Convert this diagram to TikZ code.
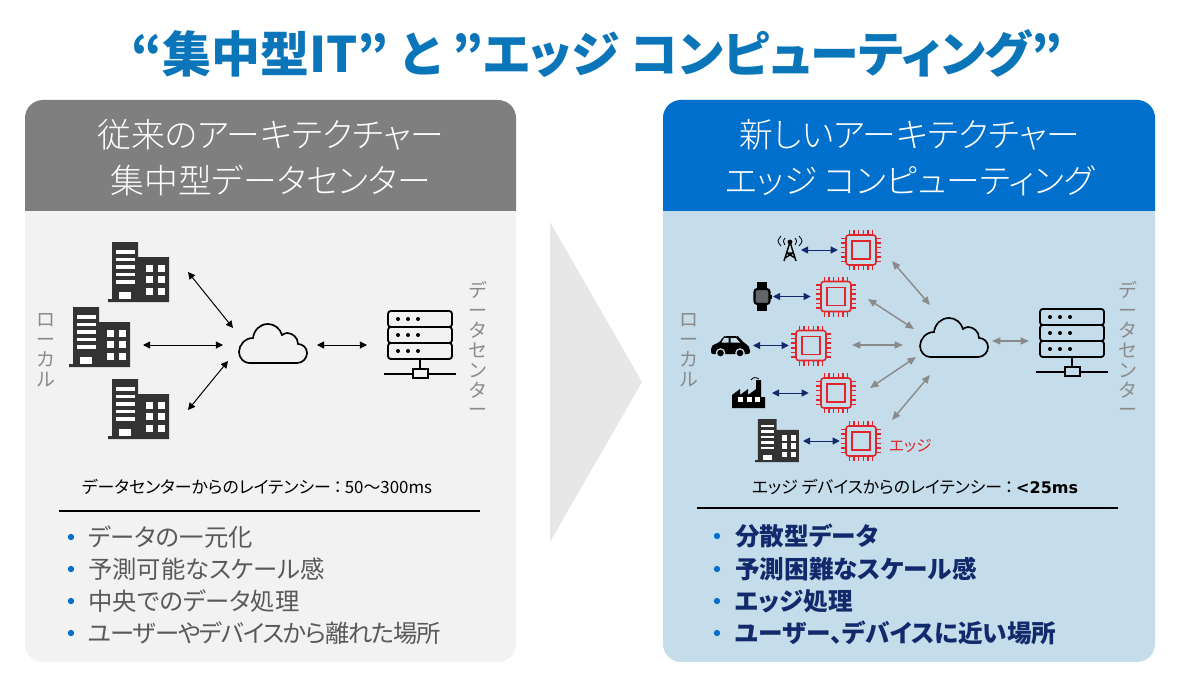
\documentclass[tikz,border=0pt]{standalone}
\usepackage{fontspec}
\setmainfont{Noto Sans CJK JP}[RawFeature=+palt]
\newfontfamily\lightfont{Noto Sans CJK JP Light}[RawFeature=+palt]
\newfontfamily\latinbold{DejaVu Sans}[Scale=0.95]
\usetikzlibrary{arrows.meta}
\definecolor{titleblue}{HTML}{0A75B8}
\definecolor{headblue}{HTML}{0070CC}
\definecolor{headgrey}{HTML}{7F7F7F}
\definecolor{bodygrey}{HTML}{F2F2F2}
\definecolor{bodyblue}{HTML}{C5DCEA}
\definecolor{chevron}{HTML}{E7E7E7}
\definecolor{chipred}{HTML}{E0252B}
\definecolor{navy}{HTML}{12296B}
\definecolor{darkbldg}{HTML}{333333}
\definecolor{sidegrey}{HTML}{8A8A8A}
\tikzset{
  blackarrow/.style={{Triangle[length=5pt,width=5pt]}-{Triangle[length=5pt,width=5pt]}, line width=.7pt, black},
  greyarrow/.style={{Triangle[length=6pt,width=5pt]}-{Triangle[length=6pt,width=5pt]}, line width=1pt, sidegrey},
  navyarrow/.style={{Triangle[length=5pt,width=5pt]}-{Triangle[length=5pt,width=5pt]}, line width=.7pt, navy},
  chipbox/.style={minimum size=1cm, inner sep=0pt},
  headtext/.style={text=white, font=\lightfont\fontsize{24}{28}\selectfont},
  sidetext/.style={text=sidegrey, align=center, font=\fontsize{13.5}{14.2}\selectfont},
  latency/.style={text=black, font=\fontsize{12}{15}\selectfont},
  bulletdot/.style={circle, fill=headblue, minimum size=4.5pt, inner sep=0pt},
  leftitem/.style={anchor=west, inner sep=0pt, text=black!65, font=\fontsize{17.3}{21}\selectfont},
  rightitem/.style={anchor=west, inner sep=0pt, text=navy, font=\fontsize{17.5}{21}\selectfont\bfseries},
  pics/building/.style={code={
      \fill[darkbldg] (0,60) -- (0,57) -- (4,57) -- (4,0) -- (30,0) -- (30,15) -- (61,15) -- (61,60) -- cycle;
      \foreach \sy in {8,15.6,23.2,30.8,38.4} \fill[white] (8,\sy) rectangle (27,\sy+3.6);
      \fill[white] (11,49.5) rectangle (23,57);
      \foreach \wx in {38,50} \foreach \wy in {22.7,34,45.7} \fill[white] (\wx,\wy) rectangle (\wx+7,\wy+7.2);
  }},
  pics/cloud/.style={code={
      \draw[line width=1.2pt, black, fill=#1] (10,39) -- (58,39) .. controls (64,39) and (68,34) .. (68,29)
        .. controls (68,24) and (64,20) .. (59,20) .. controls (59,13) and (53,9) .. (48,9)
        .. controls (46,9) and (45,10) .. (43,11) .. controls (41,4) and (35,0) .. (29,0)
        .. controls (21,0) and (15,6) .. (14,14) .. controls (6,14) and (0,21) .. (0,28)
        .. controls (0,34) and (5,39) .. (10,39) -- cycle;
  }},
  pics/server/.style={code={
      \draw[line width=1.3pt, rounded corners=2pt] (0,0) rectangle (64,16);
      \draw[line width=1.3pt, rounded corners=2pt] (0,16) rectangle (64,32);
      \draw[line width=1.3pt, rounded corners=2pt] (0,32) rectangle (64,48);
      \foreach \dy in {8,24,40} \foreach \dx in {10,20,30} \fill (\dx,\dy) circle (2);
      \draw[line width=1.3pt] (32,48) -- (32,58);
      \draw[line width=1.3pt] (-4,63) -- (68,63);
      \draw[line width=1.3pt, fill=#1] (25,58) rectangle (40,67);
  }},
  pics/chip/.style={code={
      \draw[chipred, line width=1.1pt, rounded corners=2pt] (-15,-15) rectangle (15,15);
      \draw[chipred, line width=1.3pt] (-9,-9) rectangle (9,9);
      \foreach \p in {-11.5,-7,-2.5,2.5,7,11.5} {
        \draw[chipred, line width=.9pt] (\p,-20) -- (\p,-15);
        \draw[chipred, line width=.9pt] (\p,15) -- (\p,20);
        \draw[chipred, line width=.9pt] (-20,\p) -- (-15,\p);
        \draw[chipred, line width=.9pt] (15,\p) -- (20,\p);
      }
  }},
}
\begin{document}
\begin{tikzpicture}[x=0.025cm, y=-0.025cm]
  \useasboundingbox (0,0) rectangle (1200,675);
  \fill[white] (0,0) rectangle (1200,675);

  \node[text=titleblue, font=\fontsize{34.8}{42}\selectfont\bfseries] (title) at (597,54) {“集中型IT” と ”エッジ コンピューティング”};

  \fill[bodygrey, rounded corners=.45cm] (25,100) rectangle (516,662);
  \fill[headgrey] (25,211) {[rounded corners=.45cm] -- (25,100) -- (516,100)} -- (516,211) -- cycle;
  \fill[bodyblue, rounded corners=.45cm] (663,100) rectangle (1155,662);
  \fill[headblue] (663,211) {[rounded corners=.45cm] -- (663,100) -- (1155,100)} -- (1155,211) -- cycle;
  \fill[chevron] (550,222) -- (642,382) -- (550,542) -- cycle;

  \node[headtext] (headL1) at (271,135) {従来のアーキテクチャー};
  \node[headtext] (headL2) at (271,181) {集中型データセンター};
  \node[headtext] (headR1) at (910,135) {新しいアーキテクチャー};
  \node[headtext] (headR2) at (910,181) {エッジ コンピューティング};

  \node[sidetext] (localL) at (46,350) {ロ\\ー\\カ\\ル};
  \node[sidetext] (centerL) at (478,349) {デ\\ー\\タ\\セ\\ン\\タ\\ー};
  \node[sidetext] (localR) at (689,350) {ロ\\ー\\カ\\ル};
  \node[sidetext] (centerR) at (1128,349) {デ\\ー\\タ\\セ\\ン\\タ\\ー};

  \pic at (108,242) {building};
  \pic at (69,307) {building};
  \pic at (108,379) {building};
  \pic at (239,324) {cloud=bodygrey};
  \pic at (388,311) {server=bodygrey};

  \foreach \name/\x/\y in {bldgA/188/272, cloudA/233/328, bldgB/143/345, cloudB/223/345, bldgC/188/410, cloudC/228/361, cloudD/317/345, serverL/367/345}
    \coordinate (\name) at (\x,\y);
  \foreach \from/\to in {bldgA/cloudA, bldgB/cloudB, bldgC/cloudC, cloudD/serverL}
    \draw[blackarrow] (\from) -- (\to);

  \node[latency] (latencyL) at (257,487) {データセンターからのレイテンシー\,：\,50～300ms};
  \draw[line width=.8pt] (59,511) -- (480,511);
  \foreach \y/\txt in {537/データの一元化, 569/予測可能なスケール感, 601/中央でのデータ処理, 633/{\addfontfeature{LetterSpace=-5}ユーザーやデバイスから離れた場所}} {
    \node[bulletdot] (dotL\y) at (71,\y) {};
    \node[leftitem] (itemL\y) at (88,\y) {\txt};
  }

  \pic at (920,318) {cloud=bodyblue};
  \pic at (1040,309) {server=bodyblue};
  \foreach \n/\x/\y in {1/861/250, 2/836/296.5, 3/811/345.5, 4/836/393, 5/861/441} {
    \node[chipbox] (chip\n) at (\x,\y) {};
    \pic at (chip\n) {chip};
  }
  \node[text=chipred, anchor=west, inner sep=0pt, font=\fontsize{11}{13}\selectfont] (edgeTag) at (889,446) {エッジ};

  \pic[scale=.72] at (755,419) {building};
  \begin{scope}[shift={(790,251)}]
    \fill (0,-9) circle (2.4);
    \draw[line width=1pt] (0,-9) -- (-6,10) (0,-9) -- (6,10) (-3.6,2) -- (3.6,2) (-5,7) -- (3,2) (5,7) -- (-3,2);
    \draw[line width=.6pt] (-5,-13) .. controls (-7,-10) .. (-5,-6) (5,-13) .. controls (7,-10) .. (5,-6);
    \draw[line width=.6pt] (-9,-15) .. controls (-13,-10) .. (-9,-5) (9,-15) .. controls (13,-10) .. (9,-5);
  \end{scope}
  \begin{scope}[shift={(762,296.5)}]
    \fill[black] (-5,-14.5) rectangle (5,-7);
    \fill[black] (-5,7) rectangle (5,14.5);
    \fill[black] (8,-2) rectangle (10,2);
    \draw[line width=1.5pt, black, fill=bodyblue!30!darkbldg, rounded corners=2pt] (-7.5,-7.5) rectangle (7.5,7.5);
  \end{scope}
  \begin{scope}[shift={(711,336)}]
    \fill[black, rounded corners=1.5pt] (0,18) -- (0,11) -- (3,8) -- (8,7) -- (12,1) -- (14,0) -- (26,0) -- (28,1) -- (33,7) -- (37,9) -- (39,13) -- (39,18) -- cycle;
    \fill[bodyblue] (13,2) -- (17.5,2) -- (17.5,6.5) -- (10.5,6.5) -- cycle;
    \fill[bodyblue] (19.5,2) -- (25,2) -- (29,6.5) -- (19.5,6.5) -- cycle;
    \foreach \wx in {9.5,29} {
      \fill[bodyblue] (\wx,17) circle (4.8);
      \fill[black] (\wx,17) circle (3.3);
    }
  \end{scope}
  \begin{scope}[shift={(732,377)}]
    \fill[black] (0,31) -- (0,18) -- (8,12) -- (8,18) -- (16,12) -- (16,18) -- (24,12) -- (24,3) -- (29,3) -- (29,20) -- (33,20) -- (33,31) -- cycle;
    \foreach \wx in {6,14.5,23} \fill[white] (\wx,20) rectangle (\wx+5,25);
    \draw[line width=.6pt] (19,3) .. controls (21,0) and (24,0) .. (27,2);
  \end{scope}

  \foreach \name/\x/\y in {towerPort/801/250, watchPort/773/296.5, carPort/753/345.5, factoryPort/772/393, bldgPort/803/441}
    \coordinate (\name) at (\x,\y);
  \foreach \dev/\chipname/\gap in {towerPort/chip1/2.1pt, watchPort/chip2/3.6pt, carPort/chip3/1.4pt, factoryPort/chip4/5pt, bldgPort/chip5/.7pt}
    \draw[navyarrow, shorten >=\gap] (\dev) -- (\chipname.west);

  \foreach \name/\x/\y in {chipA/892/261, cloudE/930/305, chipB/868/299, cloudF/914/329, chipC/852/345, cloudG/903/345, chipD/870/388, cloudH/916/357, chipE/892/420, cloudI/930/375, cloudJ/992/341, serverR/1029/341}
    \coordinate (\name) at (\x,\y);
  \foreach \from/\to in {chipA/cloudE, chipB/cloudF, chipC/cloudG, chipD/cloudH, chipE/cloudI, cloudJ/serverR}
    \draw[greyarrow] (\from) -- (\to);

  \node[latency] (latencyR) at (915,487) {エッジ デバイスからのレイテンシー\,：\,{\latinbold\bfseries <25ms}};
  \draw[line width=.8pt] (697,508) -- (1118,508);
  \foreach \y/\txt in {536/分散型データ, 569/予測困難なスケール感, 601/エッジ処理, 633/ユーザー、デバイスに近い場所} {
    \node[bulletdot] (dotR\y) at (717,\y) {};
    \node[rightitem] (itemR\y) at (735,\y) {\txt};
  }
\end{tikzpicture}
\end{document}
